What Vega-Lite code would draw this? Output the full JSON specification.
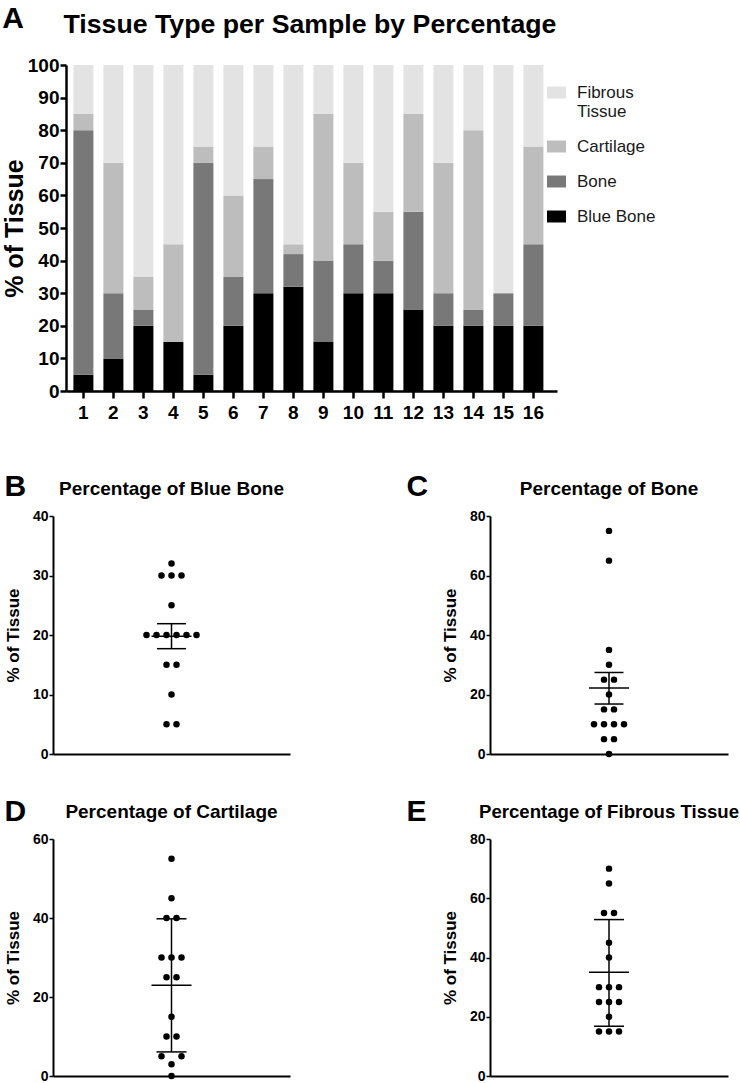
{
  "$schema": "https://vega.github.io/schema/vega-lite/v6.json",
  "padding": {"left": 2, "top": 4, "right": 0, "bottom": 0},
  "config": {
    "font": "Liberation Sans",
    "view": {"stroke": null},
    "axis": {"domainColor": "black", "tickColor": "black", "labelColor": "black", "titleColor": "black", "grid": false, "labelFontWeight": "bold", "titleFontWeight": "bold", "labelFont": "Liberation Sans", "titleFont": "Liberation Sans"},
    "title": {"color": "black", "fontWeight": "bold", "font": "Liberation Sans"},
    "legend": {"labelFont": "Liberation Sans"}
  },
  "datasets": {
    "tissue": [
      {"sample": 1, "tissue": "Blue Bone", "pct": 5, "slot": -0.5},
      {"sample": 2, "tissue": "Blue Bone", "pct": 10, "slot": 0},
      {"sample": 3, "tissue": "Blue Bone", "pct": 20, "slot": -2.5},
      {"sample": 4, "tissue": "Blue Bone", "pct": 15, "slot": -0.5},
      {"sample": 5, "tissue": "Blue Bone", "pct": 5, "slot": 0.5},
      {"sample": 6, "tissue": "Blue Bone", "pct": 20, "slot": -1.5},
      {"sample": 7, "tissue": "Blue Bone", "pct": 30, "slot": -1},
      {"sample": 8, "tissue": "Blue Bone", "pct": 32, "slot": 0},
      {"sample": 9, "tissue": "Blue Bone", "pct": 15, "slot": 0.5},
      {"sample": 10, "tissue": "Blue Bone", "pct": 30, "slot": 0},
      {"sample": 11, "tissue": "Blue Bone", "pct": 30, "slot": 1},
      {"sample": 12, "tissue": "Blue Bone", "pct": 25, "slot": 0},
      {"sample": 13, "tissue": "Blue Bone", "pct": 20, "slot": -0.5},
      {"sample": 14, "tissue": "Blue Bone", "pct": 20, "slot": 0.5},
      {"sample": 15, "tissue": "Blue Bone", "pct": 20, "slot": 1.5},
      {"sample": 16, "tissue": "Blue Bone", "pct": 20, "slot": 2.5},
      {"sample": 1, "tissue": "Bone", "pct": 75, "slot": 0},
      {"sample": 2, "tissue": "Bone", "pct": 20, "slot": 0},
      {"sample": 3, "tissue": "Bone", "pct": 5, "slot": -0.5},
      {"sample": 4, "tissue": "Bone", "pct": 0, "slot": 0},
      {"sample": 5, "tissue": "Bone", "pct": 65, "slot": 0},
      {"sample": 6, "tissue": "Bone", "pct": 15, "slot": -0.5},
      {"sample": 7, "tissue": "Bone", "pct": 35, "slot": 0},
      {"sample": 8, "tissue": "Bone", "pct": 10, "slot": -1.5},
      {"sample": 9, "tissue": "Bone", "pct": 25, "slot": -0.5},
      {"sample": 10, "tissue": "Bone", "pct": 15, "slot": 0.5},
      {"sample": 11, "tissue": "Bone", "pct": 10, "slot": -0.5},
      {"sample": 12, "tissue": "Bone", "pct": 30, "slot": 0},
      {"sample": 13, "tissue": "Bone", "pct": 10, "slot": 0.5},
      {"sample": 14, "tissue": "Bone", "pct": 5, "slot": 0.5},
      {"sample": 15, "tissue": "Bone", "pct": 10, "slot": 1.5},
      {"sample": 16, "tissue": "Bone", "pct": 25, "slot": 0.5},
      {"sample": 1, "tissue": "Cartilage", "pct": 5, "slot": -1},
      {"sample": 2, "tissue": "Cartilage", "pct": 40, "slot": -0.5},
      {"sample": 3, "tissue": "Cartilage", "pct": 10, "slot": -0.5},
      {"sample": 4, "tissue": "Cartilage", "pct": 30, "slot": -1},
      {"sample": 5, "tissue": "Cartilage", "pct": 5, "slot": 1},
      {"sample": 6, "tissue": "Cartilage", "pct": 25, "slot": -0.5},
      {"sample": 7, "tissue": "Cartilage", "pct": 10, "slot": 0.5},
      {"sample": 8, "tissue": "Cartilage", "pct": 3, "slot": 0},
      {"sample": 9, "tissue": "Cartilage", "pct": 45, "slot": 0},
      {"sample": 10, "tissue": "Cartilage", "pct": 25, "slot": 0.5},
      {"sample": 11, "tissue": "Cartilage", "pct": 15, "slot": 0},
      {"sample": 12, "tissue": "Cartilage", "pct": 30, "slot": 0},
      {"sample": 13, "tissue": "Cartilage", "pct": 40, "slot": 0.5},
      {"sample": 14, "tissue": "Cartilage", "pct": 55, "slot": 0},
      {"sample": 15, "tissue": "Cartilage", "pct": 0, "slot": 0},
      {"sample": 16, "tissue": "Cartilage", "pct": 30, "slot": 1},
      {"sample": 1, "tissue": "Fibrous Tissue", "pct": 15, "slot": -1},
      {"sample": 2, "tissue": "Fibrous Tissue", "pct": 30, "slot": -1},
      {"sample": 3, "tissue": "Fibrous Tissue", "pct": 65, "slot": 0},
      {"sample": 4, "tissue": "Fibrous Tissue", "pct": 55, "slot": -0.5},
      {"sample": 5, "tissue": "Fibrous Tissue", "pct": 25, "slot": -1},
      {"sample": 6, "tissue": "Fibrous Tissue", "pct": 40, "slot": 0},
      {"sample": 7, "tissue": "Fibrous Tissue", "pct": 25, "slot": 0},
      {"sample": 8, "tissue": "Fibrous Tissue", "pct": 55, "slot": 0.5},
      {"sample": 9, "tissue": "Fibrous Tissue", "pct": 15, "slot": 0},
      {"sample": 10, "tissue": "Fibrous Tissue", "pct": 30, "slot": 0},
      {"sample": 11, "tissue": "Fibrous Tissue", "pct": 45, "slot": 0},
      {"sample": 12, "tissue": "Fibrous Tissue", "pct": 15, "slot": 1},
      {"sample": 13, "tissue": "Fibrous Tissue", "pct": 30, "slot": 1},
      {"sample": 14, "tissue": "Fibrous Tissue", "pct": 20, "slot": 0},
      {"sample": 15, "tissue": "Fibrous Tissue", "pct": 70, "slot": 0},
      {"sample": 16, "tissue": "Fibrous Tissue", "pct": 25, "slot": 1}
    ],
    "stats": [
      {"tissue": "Blue Bone", "mean": 19.8, "lo": 17.7, "hi": 21.9},
      {"tissue": "Bone", "mean": 22.2, "lo": 16.8, "hi": 27.4},
      {"tissue": "Cartilage", "mean": 23, "lo": 6.1, "hi": 39.8},
      {"tissue": "Fibrous Tissue", "mean": 35, "lo": 16.8, "hi": 52.8}
    ]
  },
  "columns": 1,
  "align": "none",
  "spacing": 50,
  "concat": [
    {
      "title": {"text": "A", "anchor": "start", "fontSize": 30, "offset": -22},
      "vconcat": [
        {
          "width": 504,
          "height": 326,
          "title": {"text": "Tissue Type per Sample by Percentage", "fontSize": 26.7, "anchor": "middle", "frame": "group", "offset": 17, "dx": 5},
          "data": {"name": "tissue"},
          "mark": {"type": "bar"},
          "encoding": {
            "x": {"field": "sample", "type": "ordinal", "scale": {"paddingInner": 0.3333, "paddingOuter": 0.5667, "align": 0.6},
              "axis": {"title": null, "labelAngle": 0, "labelFontSize": 19, "domainWidth": 2.5, "domainDash": [0, 13, 491], "tickWidth": 2.5, "tickSize": 7, "labelPadding": 5}},
            "y": {"field": "pct", "type": "quantitative", "aggregate": "sum", "stack": "zero", "scale": {"domain": [0, 100], "nice": false},
              "axis": {"title": "% of Tissue", "offset": -13, "values": [0, 10, 20, 30, 40, 50, 60, 70, 80, 90, 100], "labelFontSize": 19, "titleFontSize": 25, "domainWidth": 2.5, "tickWidth": 2.5, "tickSize": 6, "labelPadding": 1, "titlePadding": 0}},
            "order": {"field": "tissue", "sort": "ascending"},
            "color": {"field": "tissue", "type": "nominal",
              "scale": {"domain": ["Fibrous Tissue", "Cartilage", "Bone", "Blue Bone"], "range": ["#e3e3e3", "#bdbdbd", "#787878", "#000000"]},
              "legend": {"title": null, "orient": "none", "legendX": 494, "legendY": 18, "symbolType": "M-1,-0.63L1,-0.63L1,0.63L-1,0.63Z", "symbolSize": 361, "symbolStrokeWidth": 0, "labelFontSize": 17, "labelColor": "#1a1a1a", "labelOffset": 11, "rowPadding": 17, "labelLimit": 200,
                "labelExpr": "datum.label == 'Fibrous Tissue' ? ['Fibrous', 'Tissue'] : datum.label"}}
          }
        }
      ]
    },
    {
      "columns": 2,
      "align": "each",
      "spacing": {"row": 36, "column": 116},
      "concat": [
        {
          "title": {"text": "B", "anchor": "start", "fontSize": 30, "offset": -22},
          "vconcat": [
            {
              "width": 237, "height": 238,
              "title": {"text": "Percentage of Blue Bone", "fontSize": 19, "anchor": "middle", "frame": "group", "offset": 10},
              "layer": [
                {"data": {"name": "tissue"}, "transform": [{"filter": "datum.tissue == 'Blue Bone'"}],
                  "mark": {"type": "circle", "size": 42, "color": "black", "opacity": 1},
                  "encoding": {
                    "x": {"field": "slot", "type": "quantitative", "scale": {"domain": [-11.85, 11.85], "nice": false, "zero": false}, "axis": {"title": null, "labels": false, "ticks": false, "domainWidth": 2}},
                    "y": {"field": "pct", "type": "quantitative", "scale": {"domain": [0, 40], "nice": false}, "axis": {"title": "% of Tissue", "values": [0, 10, 20, 30, 40], "labelFontSize": 14, "titleFontSize": 17, "domainWidth": 2, "tickWidth": 1.5, "tickSize": 4, "labelPadding": 1, "titlePadding": 10}}
                  }},
                {"data": {"name": "stats"}, "transform": [{"filter": "datum.tissue == 'Blue Bone'"}], "mark": {"type": "rule", "color": "black", "strokeWidth": 1.5},
                  "encoding": {"x": {"datum": 0, "type": "quantitative"}, "y": {"field": "lo", "type": "quantitative"}, "y2": {"field": "hi"}}},
                {"data": {"name": "stats"}, "transform": [{"filter": "datum.tissue == 'Blue Bone'"}], "mark": {"type": "rule", "color": "black", "strokeWidth": 1.5},
                  "encoding": {"x": {"datum": -2, "type": "quantitative"}, "x2": {"datum": 2}, "y": {"field": "mean", "type": "quantitative"}}},
                {"data": {"name": "stats"}, "transform": [{"filter": "datum.tissue == 'Blue Bone'"}], "mark": {"type": "rule", "color": "black", "strokeWidth": 1.5},
                  "encoding": {"x": {"datum": -1.45, "type": "quantitative"}, "x2": {"datum": 1.45}, "y": {"field": "lo", "type": "quantitative"}}},
                {"data": {"name": "stats"}, "transform": [{"filter": "datum.tissue == 'Blue Bone'"}], "mark": {"type": "rule", "color": "black", "strokeWidth": 1.5},
                  "encoding": {"x": {"datum": -1.45, "type": "quantitative"}, "x2": {"datum": 1.45}, "y": {"field": "hi", "type": "quantitative"}}}
              ]
            }
          ]
        },
        {
          "title": {"text": "C", "anchor": "start", "fontSize": 30, "offset": -22, "dx": -35},
          "vconcat": [
            {
              "width": 238, "height": 238,
              "title": {"text": "Percentage of Bone", "fontSize": 19, "anchor": "middle", "frame": "group", "offset": 10},
              "layer": [
                {"data": {"name": "tissue"}, "transform": [{"filter": "datum.tissue == 'Bone'"}],
                  "mark": {"type": "circle", "size": 42, "color": "black", "opacity": 1},
                  "encoding": {
                    "x": {"field": "slot", "type": "quantitative", "scale": {"domain": [-11.9, 11.9], "nice": false, "zero": false}, "axis": {"title": null, "labels": false, "ticks": false, "domainWidth": 2}},
                    "y": {"field": "pct", "type": "quantitative", "scale": {"domain": [0, 80], "nice": false}, "axis": {"title": "% of Tissue", "values": [0, 20, 40, 60, 80], "labelFontSize": 14, "titleFontSize": 17, "domainWidth": 2, "tickWidth": 1.5, "tickSize": 4, "labelPadding": 1, "titlePadding": 10}}
                  }},
                {"data": {"name": "stats"}, "transform": [{"filter": "datum.tissue == 'Bone'"}], "mark": {"type": "rule", "color": "black", "strokeWidth": 1.5},
                  "encoding": {"x": {"datum": 0, "type": "quantitative"}, "y": {"field": "lo", "type": "quantitative"}, "y2": {"field": "hi"}}},
                {"data": {"name": "stats"}, "transform": [{"filter": "datum.tissue == 'Bone'"}], "mark": {"type": "rule", "color": "black", "strokeWidth": 1.5},
                  "encoding": {"x": {"datum": -2, "type": "quantitative"}, "x2": {"datum": 2}, "y": {"field": "mean", "type": "quantitative"}}},
                {"data": {"name": "stats"}, "transform": [{"filter": "datum.tissue == 'Bone'"}], "mark": {"type": "rule", "color": "black", "strokeWidth": 1.5},
                  "encoding": {"x": {"datum": -1.45, "type": "quantitative"}, "x2": {"datum": 1.45}, "y": {"field": "lo", "type": "quantitative"}}},
                {"data": {"name": "stats"}, "transform": [{"filter": "datum.tissue == 'Bone'"}], "mark": {"type": "rule", "color": "black", "strokeWidth": 1.5},
                  "encoding": {"x": {"datum": -1.45, "type": "quantitative"}, "x2": {"datum": 1.45}, "y": {"field": "hi", "type": "quantitative"}}}
              ]
            }
          ]
        },
        {
          "title": {"text": "D", "anchor": "start", "fontSize": 30, "offset": -24},
          "vconcat": [
            {
              "width": 237, "height": 237,
              "title": {"text": "Percentage of Cartilage", "fontSize": 19, "anchor": "middle", "frame": "group", "offset": 10},
              "layer": [
                {"data": {"name": "tissue"}, "transform": [{"filter": "datum.tissue == 'Cartilage'"}],
                  "mark": {"type": "circle", "size": 42, "color": "black", "opacity": 1},
                  "encoding": {
                    "x": {"field": "slot", "type": "quantitative", "scale": {"domain": [-11.85, 11.85], "nice": false, "zero": false}, "axis": {"title": null, "labels": false, "ticks": false, "domainWidth": 2}},
                    "y": {"field": "pct", "type": "quantitative", "scale": {"domain": [0, 60], "nice": false}, "axis": {"title": "% of Tissue", "values": [0, 20, 40, 60], "labelFontSize": 14, "titleFontSize": 17, "domainWidth": 2, "tickWidth": 1.5, "tickSize": 4, "labelPadding": 1, "titlePadding": 10}}
                  }},
                {"data": {"name": "stats"}, "transform": [{"filter": "datum.tissue == 'Cartilage'"}], "mark": {"type": "rule", "color": "black", "strokeWidth": 1.5},
                  "encoding": {"x": {"datum": 0, "type": "quantitative"}, "y": {"field": "lo", "type": "quantitative"}, "y2": {"field": "hi"}}},
                {"data": {"name": "stats"}, "transform": [{"filter": "datum.tissue == 'Cartilage'"}], "mark": {"type": "rule", "color": "black", "strokeWidth": 1.5},
                  "encoding": {"x": {"datum": -2, "type": "quantitative"}, "x2": {"datum": 2}, "y": {"field": "mean", "type": "quantitative"}}},
                {"data": {"name": "stats"}, "transform": [{"filter": "datum.tissue == 'Cartilage'"}], "mark": {"type": "rule", "color": "black", "strokeWidth": 1.5},
                  "encoding": {"x": {"datum": -1.5, "type": "quantitative"}, "x2": {"datum": 1.5}, "y": {"field": "lo", "type": "quantitative"}}},
                {"data": {"name": "stats"}, "transform": [{"filter": "datum.tissue == 'Cartilage'"}], "mark": {"type": "rule", "color": "black", "strokeWidth": 1.5},
                  "encoding": {"x": {"datum": -1.5, "type": "quantitative"}, "x2": {"datum": 1.5}, "y": {"field": "hi", "type": "quantitative"}}}
              ]
            }
          ]
        },
        {
          "title": {"text": "E", "anchor": "start", "fontSize": 30, "offset": -24, "dx": -35},
          "vconcat": [
            {
              "width": 238, "height": 237,
              "title": {"text": "Percentage of Fibrous Tissue", "fontSize": 18.6, "anchor": "middle", "frame": "group", "offset": 10},
              "layer": [
                {"data": {"name": "tissue"}, "transform": [{"filter": "datum.tissue == 'Fibrous Tissue'"}],
                  "mark": {"type": "circle", "size": 42, "color": "black", "opacity": 1},
                  "encoding": {
                    "x": {"field": "slot", "type": "quantitative", "scale": {"domain": [-11.9, 11.9], "nice": false, "zero": false}, "axis": {"title": null, "labels": false, "ticks": false, "domainWidth": 2}},
                    "y": {"field": "pct", "type": "quantitative", "scale": {"domain": [0, 80], "nice": false}, "axis": {"title": "% of Tissue", "values": [0, 20, 40, 60, 80], "labelFontSize": 14, "titleFontSize": 17, "domainWidth": 2, "tickWidth": 1.5, "tickSize": 4, "labelPadding": 1, "titlePadding": 10}}
                  }},
                {"data": {"name": "stats"}, "transform": [{"filter": "datum.tissue == 'Fibrous Tissue'"}], "mark": {"type": "rule", "color": "black", "strokeWidth": 1.5},
                  "encoding": {"x": {"datum": 0, "type": "quantitative"}, "y": {"field": "lo", "type": "quantitative"}, "y2": {"field": "hi"}}},
                {"data": {"name": "stats"}, "transform": [{"filter": "datum.tissue == 'Fibrous Tissue'"}], "mark": {"type": "rule", "color": "black", "strokeWidth": 1.5},
                  "encoding": {"x": {"datum": -2, "type": "quantitative"}, "x2": {"datum": 2}, "y": {"field": "mean", "type": "quantitative"}}},
                {"data": {"name": "stats"}, "transform": [{"filter": "datum.tissue == 'Fibrous Tissue'"}], "mark": {"type": "rule", "color": "black", "strokeWidth": 1.5},
                  "encoding": {"x": {"datum": -1.5, "type": "quantitative"}, "x2": {"datum": 1.5}, "y": {"field": "lo", "type": "quantitative"}}},
                {"data": {"name": "stats"}, "transform": [{"filter": "datum.tissue == 'Fibrous Tissue'"}], "mark": {"type": "rule", "color": "black", "strokeWidth": 1.5},
                  "encoding": {"x": {"datum": -1.5, "type": "quantitative"}, "x2": {"datum": 1.5}, "y": {"field": "hi", "type": "quantitative"}}}
              ]
            }
          ]
        }
      ]
    }
  ]
}
